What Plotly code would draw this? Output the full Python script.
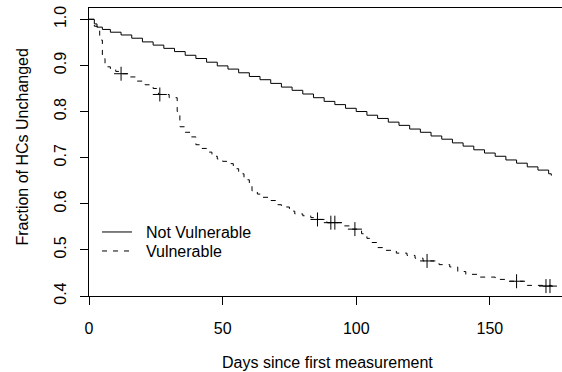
import plotly.graph_objects as go

# Not Vulnerable survival curve (step times, survival fraction)
nv_days = [0, 2, 3, 5, 8, 12, 16, 20, 24, 28, 32, 36, 40, 44, 48, 52, 56, 60, 64, 68,
           72, 76, 80, 84, 88, 92, 96, 100, 104, 108, 112, 116, 120, 124, 128, 132,
           136, 140, 144, 148, 152, 156, 160, 164, 168, 172, 173]
nv_surv = [1.0, 0.99, 0.983, 0.978, 0.972, 0.966, 0.959, 0.951, 0.944, 0.937, 0.930,
           0.922, 0.915, 0.907, 0.899, 0.892, 0.884, 0.876, 0.869, 0.861, 0.853, 0.846,
           0.838, 0.830, 0.822, 0.815, 0.807, 0.800, 0.792, 0.785, 0.777, 0.770, 0.762,
           0.755, 0.747, 0.740, 0.732, 0.725, 0.717, 0.710, 0.703, 0.695, 0.688, 0.680,
           0.673, 0.665, 0.661]

# Vulnerable survival curve
v_days = [0, 2, 3, 4, 5, 6, 8, 10, 12, 15, 18, 21, 24, 26, 30, 33, 34, 36, 38, 40, 42,
          44, 46, 48, 50, 52, 54, 56, 58, 60, 61, 63, 65, 67, 70, 72, 75, 77, 80, 83,
          85, 89, 95, 98, 102, 104, 105, 108, 111, 115, 119, 122, 125, 131, 135, 138,
          141, 146, 152, 157, 164, 173]
v_surv = [1.0, 0.985, 0.975, 0.955, 0.915, 0.897, 0.892, 0.887, 0.882, 0.875, 0.866,
          0.858, 0.850, 0.837, 0.830, 0.800, 0.767, 0.755, 0.745, 0.728, 0.720, 0.712,
          0.703, 0.697, 0.692, 0.687, 0.676, 0.665, 0.652, 0.645, 0.628, 0.621, 0.614,
          0.607, 0.598, 0.593, 0.584, 0.578, 0.574, 0.570, 0.566, 0.559, 0.552, 0.545,
          0.535, 0.525, 0.516, 0.505, 0.499, 0.493, 0.488, 0.482, 0.476, 0.468, 0.463,
          0.453, 0.447, 0.441, 0.436, 0.432, 0.423, 0.4215]

# Censoring marks on the Vulnerable curve
v_cens_days = [12, 26.5, 85.5, 90.5, 92, 99.5, 126.5, 160, 171, 172.5]
v_cens_surv = [0.882, 0.837, 0.566, 0.559, 0.559, 0.545, 0.476, 0.432, 0.4215, 0.4215]

series_names = ["Not Vulnerable", "Vulnerable"]
x_ticks = [0, 50, 100, 150]
y_ticks = [0.4, 0.5, 0.6, 0.7, 0.8, 0.9, 1.0]
y_ticklabels = ["0.4", "0.5", "0.6", "0.7", "0.8", "0.9", "1.0"]

FONT = "Liberation Sans, Arial, sans-serif"
PAD = "\u00a0\u00a0"  # small gap between legend key and text

fig = go.Figure()
fig.add_trace(go.Scatter(x=nv_days, y=nv_surv, mode="lines", line_shape="hv",
                         line=dict(color="black", width=1), name=PAD + series_names[0],
                         legend="legend"))
fig.add_trace(go.Scatter(x=v_days, y=v_surv, mode="lines", line_shape="hv",
                         line=dict(color="black", width=1, dash="5px,6px"),
                         name=PAD + series_names[1], legend="legend2"))
fig.add_trace(go.Scatter(x=v_cens_days, y=v_cens_surv, mode="markers", showlegend=False,
                         marker=dict(symbol="cross-thin", size=10, color="black",
                                     line=dict(color="black", width=1))))

leg_common = dict(xanchor="left", yanchor="top", bgcolor="rgba(0,0,0,0)", itemwidth=30,
                  font=dict(family=FONT, size=16, color="black"))

fig.update_layout(
    width=562, height=372,
    margin=dict(l=89, r=0, t=8, b=76),
    paper_bgcolor="white", plot_bgcolor="white",
    font=dict(family=FONT, size=16, color="black"),
    showlegend=True,
    legend=dict(x=0.017, y=0.281, **leg_common),
    legend2=dict(x=0.017, y=0.215, **leg_common),
    xaxis=dict(range=[0, 177], tickvals=x_ticks, showgrid=False, zeroline=False,
               showline=True, linecolor="black", linewidth=1, mirror=True,
               ticks="outside", ticklen=8, tickcolor="black", tickwidth=1,
               ticklabelstandoff=10, tickfont=dict(size=16)),
    yaxis=dict(range=[0.4, 1.0245], tickvals=y_ticks, ticktext=y_ticklabels,
               showgrid=False, zeroline=False, showline=True, linecolor="black",
               linewidth=1, mirror=False, ticks="outside", ticklen=8, tickcolor="black",
               tickwidth=1, tickangle=-90, ticklabelstandoff=8, tickfont=dict(size=16)),
    annotations=[
        dict(text="Days since first measurement", xref="paper", yref="paper",
             x=0.505, y=-0.2326, xanchor="center", yanchor="middle", showarrow=False,
             font=dict(family=FONT, size=16, color="black")),
        dict(text="Fraction of HCs Unchanged", xref="paper", yref="paper",
             x=-0.1416, y=0.5156, xanchor="center", yanchor="middle", showarrow=False,
             textangle=-90, font=dict(family=FONT, size=16, color="black")),
    ],
)

fig.write_html("out.html", config={"displayModeBar": False},
               post_script="document.body.style.margin='0';document.body.style.overflow='hidden';")
